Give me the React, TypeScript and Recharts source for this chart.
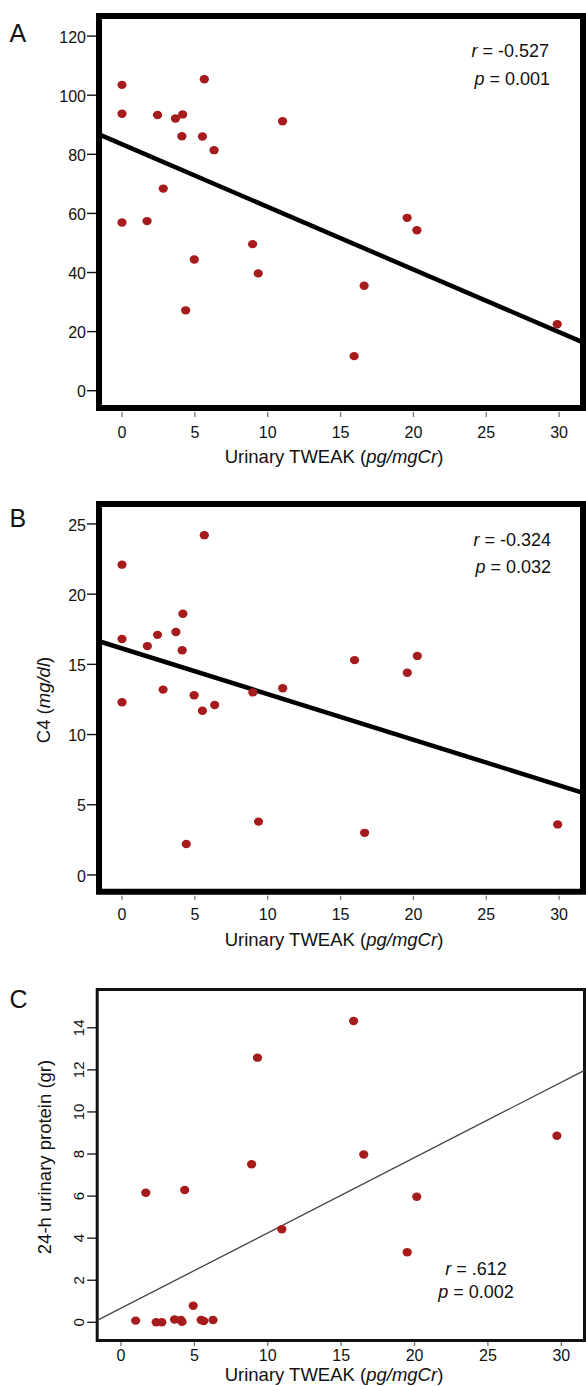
import React from 'react';
import { ScatterChart, Scatter, XAxis, YAxis, ReferenceLine, ReferenceArea } from 'recharts';

const FONT = '"Liberation Sans", Arial, Helvetica, sans-serif';
const DOT = '#a61c1c';

// Shared x-axis ticks (Urinary TWEAK, pg/mgCr)
const X_TICKS = [0, 5, 10, 15, 20, 25, 30];

// Panel A
const A_Y_TICKS = [0, 20, 40, 60, 80, 100, 120];
const A_X = [0, 0, 0, 1.72, 2.44, 2.83, 3.67, 4.16, 4.11, 4.37, 4.96, 5.52, 5.65, 6.32, 8.96, 9.35, 11.02, 15.93, 16.62, 19.57, 20.24, 29.87];
const A_Y = [103.5, 93.7, 56.9, 57.4, 93.3, 68.4, 92.1, 93.5, 86.1, 27.2, 44.4, 86.0, 105.4, 81.4, 49.6, 39.7, 91.2, 11.7, 35.5, 58.5, 54.3, 22.5];
const A_FIT = { intercept: 83.4, slope: -2.119 };

// Panel B: C4 (mg/dl)
const B_Y_TICKS = [0, 5, 10, 15, 20, 25];
const B_X = [0, 0, 0, 1.74, 2.44, 2.82, 3.7, 4.18, 4.13, 4.41, 4.95, 5.52, 5.65, 6.36, 8.98, 9.37, 11.03, 15.96, 16.65, 19.58, 20.27, 29.9];
const B_Y = [22.1, 16.8, 12.3, 16.3, 17.1, 13.2, 17.3, 18.6, 16.0, 2.2, 12.8, 11.7, 24.2, 12.1, 13.0, 3.8, 13.3, 15.3, 3.0, 14.4, 15.6, 3.6];
const B_FIT = { intercept: 16.13, slope: -0.325 };

// Panel C: 24-h urinary protein (gr)
const C_Y_TICKS = [0, 2, 4, 6, 8, 10, 12, 14];
const C_X = [1.0, 1.69, 2.4, 2.78, 3.65, 4.08, 4.16, 4.34, 4.92, 5.46, 5.64, 6.27, 8.9, 9.3, 10.96, 15.85, 16.54, 19.5, 20.15, 29.7];
const C_Y = [0.08, 6.16, 0, 0, 0.13, 0.11, 0.02, 6.29, 0.79, 0.11, 0.06, 0.11, 7.51, 12.58, 4.42, 14.32, 7.98, 3.33, 5.97, 8.87];
const C_FIT = { intercept: 0.67, slope: 0.358 };

const toPoints = (xs: number[], ys: number[]) => xs.map((x, i) => ({ x, y: ys[i] }));

const dotShape = (p: any) => <ellipse cx={p.cx} cy={p.cy} rx={4.6} ry={4.2} fill={DOT} />;

const makeXTick = (m1: number, m2: number, dy: number) => (props: any) => {
  const { x, y, payload } = props;
  return (
    <g>
      <line x1={x} x2={x} y1={y + m1} y2={y + m2} stroke="#777" strokeWidth={1.3} />
      <text x={x} y={y + dy} textAnchor="middle" fontSize={16} fontFamily={FONT} fill="#111">
        {payload.value}
      </text>
    </g>
  );
};

const yTickNormal = (props: any) => {
  const { x, y, payload } = props;
  return (
    <g>
      <line x1={x - 12} x2={x - 3} y1={y} y2={y} stroke="#111" strokeWidth={1.4} />
      <text x={x - 13} y={y + 6.6} textAnchor="end" fontSize={16} fontFamily={FONT} fill="#111">
        {payload.value}
      </text>
    </g>
  );
};

const yTickRotated = (props: any) => {
  const { x, y, payload } = props;
  const tx = x - 13.5;
  return (
    <g>
      <line x1={x - 10} x2={x - 1} y1={y} y2={y} stroke="#111" strokeWidth={1.3} />
      <text
        x={tx}
        y={y}
        transform={`rotate(-90 ${tx} ${y})`}
        textAnchor="middle"
        fontSize={15}
        fontFamily={FONT}
        fill="#111"
      >
        {payload.value}
      </text>
    </g>
  );
};

type PanelProps = {
  height: number;
  margin: { top: number; right: number; bottom: number; left: number };
  xDomain: [number, number];
  yDomain: [number, number];
  yTicks: number[];
  xs: number[];
  ys: number[];
  fit: { intercept: number; slope: number };
  frameWidth: number;
  frameColor: string;
  lineWidth: number;
  lineColor: string;
  xTick: (p: any) => any;
  yTick: (p: any) => any;
  overlay: React.ReactNode;
};

const Panel = (p: PanelProps) => {
  const data = toPoints(p.xs, p.ys);
  const [x0, x1] = p.xDomain;
  const f = (x: number) => p.fit.intercept + p.fit.slope * x;
  return (
    <div style={{ position: 'relative', width: 586, height: p.height }}>
      <ScatterChart width={586} height={p.height} margin={p.margin}>
        <XAxis
          type="number"
          dataKey="x"
          domain={p.xDomain}
          ticks={X_TICKS}
          interval={0}
          allowDataOverflow
          axisLine={false}
          tickLine={false}
          tickSize={0}
          tickMargin={0}
          height={1}
          tick={p.xTick}
        />
        <YAxis
          type="number"
          dataKey="y"
          domain={p.yDomain}
          ticks={p.yTicks}
          interval={0}
          allowDataOverflow
          axisLine={false}
          tickLine={false}
          tickSize={0}
          tickMargin={0}
          width={1}
          tick={p.yTick}
        />
        <Scatter data={data} shape={dotShape} isAnimationActive={false} />
        <ReferenceLine
          segment={[
            { x: x0, y: f(x0) },
            { x: x1, y: f(x1) },
          ]}
          stroke={p.lineColor}
          strokeWidth={p.lineWidth}
          ifOverflow="visible"
        />
        <ReferenceArea
          x1={p.xDomain[0]}
          x2={p.xDomain[1]}
          y1={p.yDomain[0]}
          y2={p.yDomain[1]}
          fill="none"
          fillOpacity={0}
          stroke={p.frameColor}
          strokeWidth={p.frameWidth}
          ifOverflow="visible"
        />
      </ScatterChart>
      <svg
        width={586}
        height={p.height}
        style={{ position: 'absolute', left: 0, top: 0, pointerEvents: 'none' }}
        fontFamily={FONT}
      >
        {p.overlay}
      </svg>
    </div>
  );
};

const XLabel = ({ y }: { y: number }) => (
  <text x={334} y={y} textAnchor="middle" fontSize={18.5} fill="#111">
    Urinary TWEAK (<tspan fontStyle="italic">pg/mgCr</tspan>)
  </text>
);

export default function App() {
  return (
    <div style={{ position: 'absolute', left: 0, top: 0, width: 586, height: 1386, background: '#fff' }}>
      <Panel
        height={470}
        margin={{ top: 16, right: 3, bottom: 61, left: 98 }}
        xDomain={[-1.579, 31.64]}
        yDomain={[-5.85, 126.8]}
        yTicks={A_Y_TICKS}
        xs={A_X}
        ys={A_Y}
        fit={A_FIT}
        frameWidth={6}
        frameColor="#000"
        lineWidth={4.5}
        lineColor="#000"
        xTick={makeXTick(4, 9, 30.3)}
        yTick={yTickNormal}
        overlay={
          <>
            <text x={9.5} y={41.7} fontSize={25} fill="#111">A</text>
            <text x={549} y={57} textAnchor="end" fontSize={18} fill="#111">
              <tspan fontStyle="italic">r</tspan> = -0.527
            </text>
            <text x={550} y={85} textAnchor="end" fontSize={18} fill="#111">
              <tspan fontStyle="italic">p</tspan> = 0.001
            </text>
            <XLabel y={463.3} />
          </>
        }
      />
      <Panel
        height={480}
        margin={{ top: 34, right: 3, bottom: 57.2, left: 98 }}
        xDomain={[-1.579, 31.64]}
        yDomain={[-1.2, 26.42]}
        yTicks={B_Y_TICKS}
        xs={B_X}
        ys={B_Y}
        fit={B_FIT}
        frameWidth={6}
        frameColor="#000"
        lineWidth={4.5}
        lineColor="#000"
        xTick={makeXTick(4, 8, 27.7)}
        yTick={yTickNormal}
        overlay={
          <>
            <text x={9.5} y={56.5} fontSize={25} fill="#111">B</text>
            <text x={551} y={76} textAnchor="end" fontSize={18} fill="#111">
              <tspan fontStyle="italic">r</tspan> = -0.324
            </text>
            <text x={551} y={103} textAnchor="end" fontSize={18} fill="#111">
              <tspan fontStyle="italic">p</tspan> = 0.032
            </text>
            <text
              x={50}
              y={230}
              transform="rotate(-90 50 230)"
              textAnchor="middle"
              fontSize={18.5}
              fill="#111"
            >
              C4 (<tspan fontStyle="italic">mg/dl</tspan>)
            </text>
            <XLabel y={476} />
          </>
        }
      />
      <Panel
        height={436}
        margin={{ top: 39.5, right: 1.5, bottom: 44.5, left: 96.2 }}
        xDomain={[-1.62, 31.58]}
        yDomain={[-0.865, 15.82]}
        yTicks={C_Y_TICKS}
        xs={C_X}
        ys={C_Y}
        fit={C_FIT}
        frameWidth={3}
        frameColor="#111"
        lineWidth={1.3}
        lineColor="#444"
        xTick={makeXTick(1.5, 5.5, 20.3)}
        yTick={yTickRotated}
        overlay={
          <>
            <text x={9.5} y={57.5} fontSize={25} fill="#111">C</text>
            <text x={476} y={325} textAnchor="middle" fontSize={18} fill="#111">
              <tspan fontStyle="italic">r</tspan> = .612
            </text>
            <text x={476} y={348} textAnchor="middle" fontSize={18} fill="#111">
              <tspan fontStyle="italic">p</tspan> = 0.002
            </text>
            <text
              x={51}
              y={207}
              transform="rotate(-90 51 207)"
              textAnchor="middle"
              fontSize={18.5}
              fill="#111"
            >
              24-h urinary protein (gr)
            </text>
            <XLabel y={431} />
          </>
        }
      />
    </div>
  );
}
